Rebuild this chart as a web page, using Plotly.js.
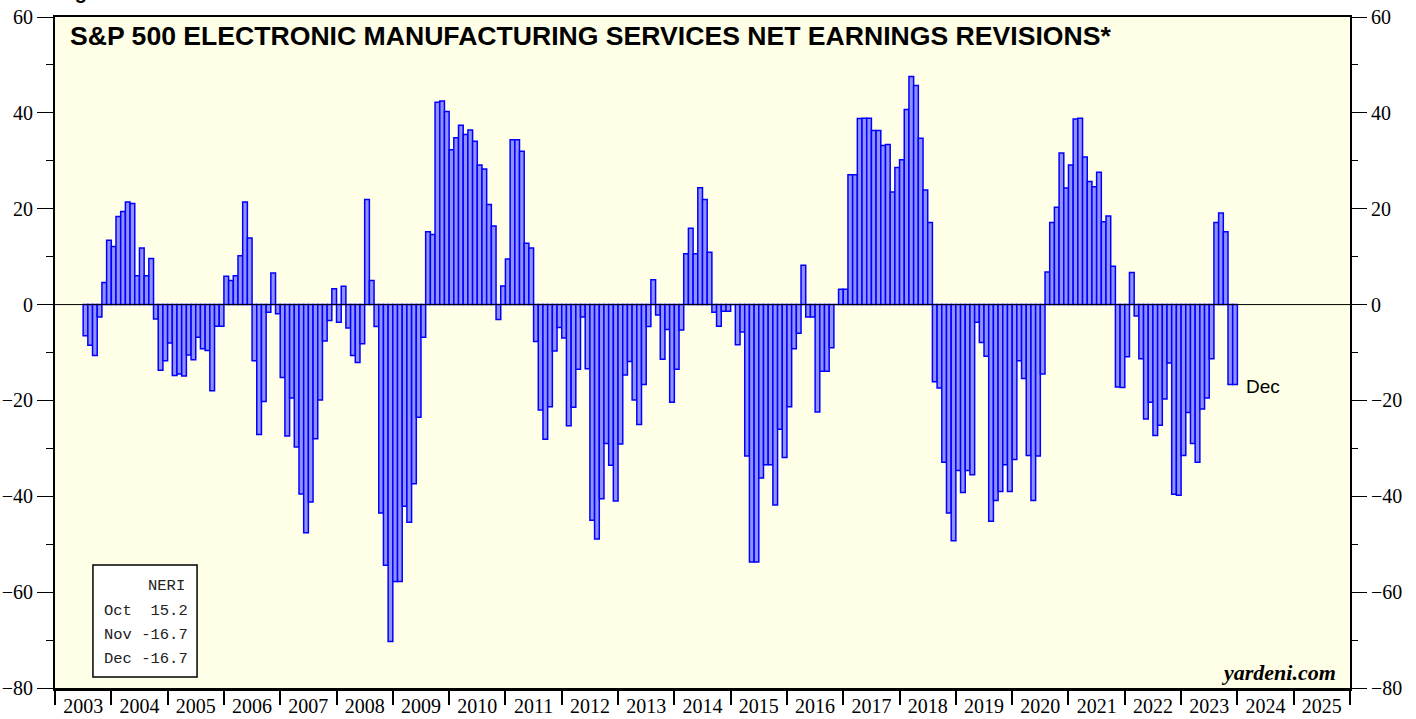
<!DOCTYPE html>
<html>
<head>
<meta charset="utf-8">
<script src="https://cdn.plot.ly/plotly-3.0.1.min.js"></script>
<style>html,body{margin:0;padding:0;background:#fff;}#chart{width:1416px;height:719px;}</style>
</head>
<body>
<div id="chart"></div>
<script>
// Monthly NERI values, Jul 2003 .. Dec 2023
const startYear = 2003;
const startMonth = 7; // July
const neri2003 = [-6.5, -8.5, -10.6, -2.6, 4.6, 13.4];
const neri2004 = [12.1, 18.4, 19.4, 21.4, 21.1, 6.0, 11.8, 6.0, 9.6, -3.0, -13.7, -11.7];
const neri2005 = [-8.0, -14.8, -14.5, -14.9, -10.5, -11.5, -6.8, -9.2, -9.6, -18.0, -4.5, -4.5];
const neri2006 = [5.9, 5.0, 6.0, 10.2, 21.4, 13.9, -11.7, -27.1, -20.2, -1.6, 6.6, -1.9];
const neri2007 = [-15.2, -27.4, -19.5, -29.7, -39.5, -47.6, -41.2, -28.0, -19.9, -7.6, -3.3, 3.3];
const neri2008 = [-3.7, 3.8, -4.9, -10.6, -12.1, -8.2, 21.9, 5.0, -4.6, -43.5, -54.4, -70.3];
const neri2009 = [-57.8, -57.8, -42.1, -45.4, -37.4, -23.5, -6.8, 15.2, 14.6, 42.2, 42.5, 40.3];
const neri2010 = [32.3, 34.8, 37.4, 35.5, 36.4, 34.1, 29.1, 28.3, 20.9, 16.4, -3.1, 3.9];
const neri2011 = [9.5, 34.4, 34.4, 32.0, 12.8, 11.8, -7.7, -22.0, -28.1, -21.3, -9.7, -4.8];
const neri2012 = [-7.0, -25.3, -21.4, -13.5, -2.6, -13.4, -45.0, -48.9, -40.5, -29.0, -33.5, -41.0];
const neri2013 = [-29.1, -14.7, -11.9, -19.9, -25.0, -16.7, -4.6, 5.2, -2.2, -11.4, -5.2, -20.4];
const neri2014 = [-13.5, -5.3, 10.6, 15.9, 10.6, 24.4, 21.9, 10.9, -1.6, -4.5, -1.4, -1.4];
const neri2015 = [0, -8.4, -5.7, -31.6, -53.7, -53.7, -36.2, -33.4, -33.4, -41.8, -26.0, -31.9];
const neri2016 = [-21.3, -9.2, -6.0, 8.2, -2.6, -2.6, -22.4, -13.9, -13.9, -9.0, 0, 3.2];
const neri2017 = [3.2, 27.1, 27.1, 38.8, 38.9, 38.9, 36.3, 36.3, 33.2, 33.4, 23.5, 28.6];
const neri2018 = [30.2, 40.7, 47.6, 45.7, 34.7, 23.9, 17.1, -16.1, -17.4, -32.9, -43.5, -49.3];
const neri2019 = [-34.6, -39.2, -34.6, -35.5, -3.7, -7.9, -10.8, -45.2, -40.9, -39.0, -33.4, -39.0];
const neri2020 = [-32.3, -11.7, -15.4, -31.5, -40.9, -31.6, -14.5, 6.8, 17.1, 20.3, 31.6, 24.3];
const neri2021 = [29.1, 38.7, 38.9, 30.8, 25.7, 24.6, 27.6, 17.3, 18.5, 8.0, -17.2, -17.3];
const neri2022 = [-10.9, 6.7, -2.4, -11.3, -23.9, -20.4, -27.3, -25.2, -19.7, -12.2, -39.6, -39.8];
const neri2023 = [-31.5, -22.5, -29.0, -32.9, -21.8, -19.5, -11.3, 17.1, 19.1, 15.2, -16.7, -16.7];

const yearLabels = ['2003','2004','2005','2006','2007','2008','2009','2010','2011','2012','2013','2014',
                    '2015','2016','2017','2018','2019','2020','2021','2022','2023','2024','2025'];
const yTicks = [-80, -60, -40, -20, 0, 20, 40, 60];
const legendTitle = 'NERI';
const legendRows = ['Oct\u00a0\u00a015.2', 'Nov\u00a0-16.7', 'Dec\u00a0-16.7'];
const titleText = 'S&P 500 ELECTRONIC MANUFACTURING SERVICES NET EARNINGS REVISIONS*';

const values = [].concat(neri2003, neri2004, neri2005, neri2006, neri2007, neri2008, neri2009,
  neri2010, neri2011, neri2012, neri2013, neri2014, neri2015, neri2016, neri2017, neri2018,
  neri2019, neri2020, neri2021, neri2022, neri2023);
// month centre as decimal year
const xs = values.map((v, i) => startYear + (startMonth - 1 + i + 0.5) / 12);

const serif = 'Liberation Serif, Times New Roman, serif';
const sans = 'Liberation Sans, Arial, sans-serif';
const mono = 'Liberation Mono, Courier New, monospace';

const traces = [
  {
    type: 'bar', x: xs, y: values, width: 1/12,
    marker: {color: 'rgb(145,145,255)', line: {color: 'rgb(0,0,255)', width: 1.5}},
    hoverinfo: 'skip', showlegend: false
  },
  {
    type: 'scatter', mode: 'markers', x: [2003], y: [0], yaxis: 'y2',
    marker: {opacity: 0}, hoverinfo: 'skip', showlegend: false
  }
];

const yearCenters = yearLabels.map(l => +l + 0.5);
const yearEdges = yearLabels.map(l => +l).concat([2026]);

const yBase = {
  range: [-80, 60], tickmode: 'array', tickvals: yTicks,
  ticks: 'outside', ticklen: 16, tickwidth: 1, tickcolor: '#000',
  minor: {tickmode: 'linear', tick0: 0, dtick: 10, ticks: 'outside', ticklen: 7, tickwidth: 1, tickcolor: '#000', showgrid: false},
  showgrid: false, zeroline: false, fixedrange: true,
  tickfont: {family: serif, size: 20, color: '#000'}
};

const layout = {
  width: 1416, height: 719,
  margin: {l: 55, r: 66, t: 17, b: 31},
  paper_bgcolor: '#ffffff',
  plot_bgcolor: 'rgb(255,254,230)',
  bargap: 0,
  xaxis: {
    range: [2003, 2026], tickmode: 'array', tickvals: yearCenters, ticktext: yearLabels,
    ticks: '', showgrid: false, zeroline: false,
    showline: true, mirror: true, linecolor: '#000', linewidth: 2.5,
    minor: {tickmode: 'array', tickvals: yearEdges, ticks: 'outside', ticklen: 14, tickwidth: 2, tickcolor: '#000', showgrid: false},
    tickfont: {family: serif, size: 20, color: '#000'}, ticklabelstandoff: -2
  },
  yaxis: Object.assign({}, yBase, {side: 'left', showline: true, mirror: true, linecolor: '#000', linewidth: 2}),
  yaxis2: Object.assign({}, yBase, {side: 'right', overlaying: 'y', showline: false}),
  shapes: [
    {type: 'line', xref: 'paper', yref: 'y', x0: 0, x1: 1, y0: 0, y1: 0, line: {color: '#000', width: 1}, layer: 'above'},
    {type: 'rect', xref: 'paper', yref: 'paper', x0: 0.0293, x1: 0.1097, y0: 0.0164, y1: 0.1833,
     fillcolor: '#ffffff', line: {color: '#000', width: 1.5}, layer: 'above'}
  ],
  annotations: [
    {xref: 'paper', yref: 'paper', x: 0.010, y: 0.9717, xanchor: 'left', yanchor: 'middle', showarrow: false,
     text: '<b>' + titleText.replace('&', '&amp;') + '</b>', font: {family: sans, size: 26.6, color: '#000'}},
    {xref: 'paper', yref: 'paper', x: 0.9907, y: 0.0224, xanchor: 'right', yanchor: 'middle', showarrow: false,
     text: '<b><i>yardeni.com</i></b>', font: {family: serif, size: 22, color: '#000'}},
    {xref: 'x', yref: 'y', x: 2024.12, y: -17, xanchor: 'left', yanchor: 'middle', showarrow: false,
     text: 'Dec', font: {family: sans, size: 19, color: '#000'}},
    {xref: 'paper', yref: 'paper', x: 0.1020, y: 0.152, xanchor: 'right', yanchor: 'middle', showarrow: false,
     text: legendTitle, font: {family: mono, size: 15.5, color: '#222'}},
    {xref: 'paper', yref: 'paper', x: 0.0363, y: 0.1148, xanchor: 'left', yanchor: 'middle', showarrow: false,
     text: legendRows[0], font: {family: mono, size: 15.5, color: '#222'}},
    {xref: 'paper', yref: 'paper', x: 0.0363, y: 0.0790, xanchor: 'left', yanchor: 'middle', showarrow: false,
     text: legendRows[1], font: {family: mono, size: 15.5, color: '#222'}},
    {xref: 'paper', yref: 'paper', x: 0.0363, y: 0.0432, xanchor: 'left', yanchor: 'middle', showarrow: false,
     text: legendRows[2], font: {family: mono, size: 15.5, color: '#222'}},
    {xref: 'paper', yref: 'paper', x: 0.0, y: 1.0175, xanchor: 'left', yanchor: 'bottom', showarrow: false,
     text: '<b>Figure 5</b>', font: {family: sans, size: 20, color: '#000'}}
  ]
};

Plotly.newPlot('chart', traces, layout, {staticPlot: true, displayModeBar: false});
</script>
</body>
</html>
